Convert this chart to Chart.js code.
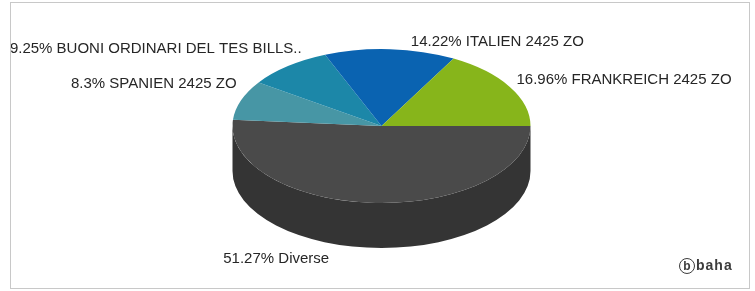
<!DOCTYPE html>
<html>
<head>
<meta charset="utf-8">
<script src="https://cdn.jsdelivr.net/npm/chart.js@4.4.1/dist/chart.umd.min.js"></script>
<style>
  html, body { margin: 0; padding: 0; background: #fff; }
  #wrap { position: relative; width: 755px; height: 291px; overflow: hidden; }
  canvas { position: absolute; left: 0; top: 0; }
  #frame { position: absolute; left: 10px; top: 2px; width: 740px; height: 287px; border: 1px solid #c8c8c8; box-sizing: border-box; }
  #logo { position: absolute; left: 679px; top: 257px; font: bold 14px "Liberation Sans", Arial, sans-serif; color: #3c3c3c; letter-spacing: 1px; white-space: nowrap; }
  #logo .b { display: inline-block; width: 14px; height: 14px; border: 1.5px solid #3c3c3c; border-radius: 50%; text-align: center; line-height: 14px; font-size: 12px; letter-spacing: 0; margin-right: 1px; vertical-align: middle; }
</style>
</head>
<body>
<div id="wrap">
  <canvas id="pie" width="755" height="291"></canvas>
  <div id="frame"></div>
  <div id="logo"><span class="b">b</span>baha</div>
</div>
<script>
// --- DATA ---
const categories = ['Diverse', 'SPANIEN 2425 ZO', 'BUONI ORDINARI DEL TES BILLS..', 'ITALIEN 2425 ZO', 'FRANKREICH 2425 ZO'];
const shares = [51.27, 8.3, 9.25, 14.22, 16.96];

// --- LOOK ---
const topColors = ['#4a4a4a', '#4796a5', '#1c87a8', '#0a63b1', '#87b51b'];
const sideColors = ['#343434', '#336f7a', '#14627a', '#074782', '#628413'];
const tilt = { cy: 126, ry: 77, depth: 45 };
// label tweaks relative to the computed anchor (collision avoidance done by hand)
const labelNudge = [[-46, 1], [5, -13], [20, -9], [20, 3], [-2, -2]];

const pie3d = {
    id: 'pie3d',
    beforeDatasetsDraw(chart) {
        const ctx = chart.ctx;
        const arcs = chart.getDatasetMeta(0).data;
        const cx = arcs[0].x, rx = arcs[0].outerRadius;

        // front wall of the disc
        arcs.forEach((arc, i) => {
            for (let n = -1; n <= 1; n++) {
                const lo = Math.max(arc.startAngle, 2 * Math.PI * n);
                const hi = Math.min(arc.endAngle, 2 * Math.PI * n + Math.PI);
                if (hi <= lo) continue;
                ctx.beginPath();
                ctx.ellipse(cx, tilt.cy, rx, tilt.ry, 0, lo, hi);
                ctx.ellipse(cx, tilt.cy + tilt.depth, rx, tilt.ry, 0, hi, lo, true);
                ctx.closePath();
                ctx.fillStyle = sideColors[i];
                ctx.fill();
            }
        });

        // squash the flat pie into the top face
        ctx.save();
        ctx.translate(0, tilt.cy);
        ctx.scale(1, tilt.ry / rx);
        ctx.translate(0, -arcs[0].y);
    },
    afterDatasetsDraw(chart) {
        const ctx = chart.ctx;
        ctx.restore();

        const arcs = chart.getDatasetMeta(0).data;
        const rx = arcs[0].outerRadius;
        ctx.save();
        ctx.font = '15px "Liberation Sans", Arial, sans-serif';
        ctx.fillStyle = '#262626';
        ctx.textBaseline = 'middle';
        arcs.forEach((arc, i) => {
            const mid = (arc.startAngle + arc.endAngle) / 2;
            const c = Math.cos(mid), s = Math.sin(mid);
            const x = arc.x + (rx + 10) * c + labelNudge[i][0];
            const y = tilt.cy + (tilt.ry + 10) * s + (s > 0 ? tilt.depth : 0) + labelNudge[i][1];
            ctx.textAlign = c >= 0 ? 'left' : 'right';
            ctx.fillText(shares[i] + '% ' + categories[i], x, y);
        });
        ctx.restore();
    }
};

new Chart(document.getElementById('pie'), {
    type: 'pie',
    data: {
        labels: categories,
        datasets: [{
            data: shares,
            backgroundColor: topColors,
            borderWidth: 0,
            radius: 149,
            clip: false
        }]
    },
    options: {
        responsive: false,
        animation: false,
        events: [],
        rotation: 90,
        layout: { padding: { left: 8 } },
        plugins: { legend: { display: false }, tooltip: { enabled: false } }
    },
    plugins: [pie3d]
});
</script>
</body>
</html>
